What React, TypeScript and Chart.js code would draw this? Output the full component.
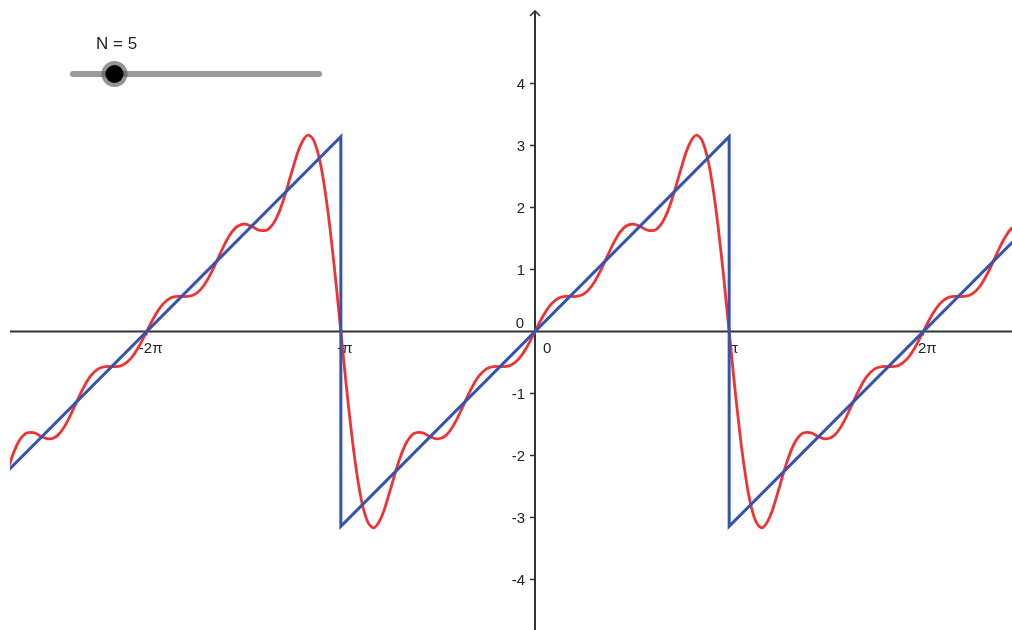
import React, { useEffect, useRef } from "react";
import { Chart, registerables } from "chart.js";

Chart.register(...registerables);

const PI = Math.PI;

// Visible window (axis units)
const X_MIN = -8.495;
const X_MAX = 7.718;
const Y_MIN = -4.815;
const Y_MAX = 5.347;

// Fourier partial sum (N = 5) read at steps of π/24 over one half period [0, π]
const SAMPLE_STEP = PI / 24;
const halfPeriodValues = [
  0, 0.2509, 0.4424, 0.5437, 0.5676, 0.5653, 0.6028, 0.7293, 0.9526, 1.2325,
  1.497, 1.6755, 1.7333, 1.6931, 1.631, 1.6467, 1.8187, 2.1612, 2.6028, 2.9972,
  3.1657, 2.9579, 2.3084, 1.2685, 0,
];
const sampleIndexFrom = -66;
const sampleIndexTo = 60;

// Sawtooth corners
const sawX = [-3 * PI, -PI, -PI, PI, PI, 3 * PI];
const sawY = [-PI, PI, -PI, PI, -PI, PI];

// Axis ticks
const xTickValues = [-2 * PI, -PI, PI, 2 * PI];
const xTickLabels = ["-2π", "-π", "π", "2π"];
const yTickValues = [-4, -3, -2, -1, 1, 2, 3, 4];
const yTickLabels = ["-4", "-3", "-2", "-1", "1", "2", "3", "4"];

// Slider
const sliderLabel = "N = 5";
const sliderMin = 1;
const sliderMax = 25;
const sliderValue = 5;

const FONT = '"Liberation Sans", Arial, sans-serif';
const AXIS_COLOR = "#333333";

function buildFourier() {
  const pts: { x: number; y: number }[] = [];
  for (let k = sampleIndexFrom; k <= sampleIndexTo; k++) {
    const m = ((k % 48) + 48) % 48;
    const v = m <= 24 ? halfPeriodValues[m] : -halfPeriodValues[48 - m];
    pts.push({ x: k * SAMPLE_STEP, y: v });
  }
  return pts;
}

const axesPlugin = {
  id: "geoAxes",
  beforeDatasetsDraw(chart: any) {
    const ctx = chart.ctx;
    const xs = chart.scales.x;
    const ys = chart.scales.y;
    const area = chart.chartArea;
    const ax = xs.getPixelForValue(0);
    const ay = ys.getPixelForValue(0);
    ctx.save();
    ctx.strokeStyle = AXIS_COLOR;
    ctx.lineWidth = 2;
    // x axis
    ctx.beginPath();
    ctx.moveTo(area.left, ay);
    ctx.lineTo(area.right, ay);
    ctx.stroke();
    // y axis with arrow
    const top = area.top + 11;
    ctx.beginPath();
    ctx.moveTo(ax, area.bottom);
    ctx.lineTo(ax, top);
    ctx.stroke();
    ctx.lineWidth = 1.6;
    ctx.beginPath();
    ctx.moveTo(ax - 5, top + 5);
    ctx.lineTo(ax, top);
    ctx.lineTo(ax + 5, top + 5);
    ctx.stroke();

    // ticks
    ctx.lineWidth = 1.5;
    ctx.fillStyle = "#222222";
    ctx.font = `15px ${FONT}`;
    xTickValues.forEach((v, i) => {
      const px = xs.getPixelForValue(v);
      ctx.beginPath();
      ctx.moveTo(px, ay);
      ctx.lineTo(px, ay + 4);
      ctx.stroke();
      ctx.textAlign = "center";
      ctx.textBaseline = "middle";
      ctx.fillText(xTickLabels[i], px + 4, ay + 17);
    });
    yTickValues.forEach((v, i) => {
      const py = ys.getPixelForValue(v);
      ctx.beginPath();
      ctx.moveTo(ax - 5, py);
      ctx.lineTo(ax, py);
      ctx.stroke();
      ctx.textAlign = "right";
      ctx.textBaseline = "middle";
      ctx.fillText(yTickLabels[i], ax - 10, py + 1);
    });
    // origin labels
    ctx.textAlign = "right";
    ctx.fillText("0", ax - 11, ay - 8);
    ctx.textAlign = "left";
    ctx.fillText("0", ax + 8, ay + 17);
    ctx.restore();
  },
  afterDraw(chart: any) {
    const ctx = chart.ctx;
    ctx.save();
    const x0 = 73;
    const x1 = 319;
    const y = 74;
    ctx.strokeStyle = "#9a9a9a";
    ctx.lineWidth = 6;
    ctx.lineCap = "round";
    ctx.beginPath();
    ctx.moveTo(x0, y);
    ctx.lineTo(x1, y);
    ctx.stroke();
    const kx = x0 + ((sliderValue - sliderMin) / (sliderMax - sliderMin)) * (x1 - x0) + 0.5;
    ctx.fillStyle = "rgba(90,90,90,0.65)";
    ctx.beginPath();
    ctx.arc(kx, y, 13, 0, 2 * PI);
    ctx.fill();
    ctx.fillStyle = "#000000";
    ctx.beginPath();
    ctx.arc(kx, y, 9, 0, 2 * PI);
    ctx.fill();
    ctx.fillStyle = "#222222";
    ctx.font = `17px ${FONT}`;
    ctx.textAlign = "left";
    ctx.textBaseline = "middle";
    ctx.fillText(sliderLabel, 96, 44);
    ctx.restore();
  },
};

export default function App() {
  const ref = useRef<HTMLCanvasElement | null>(null);
  useEffect(() => {
    if (!ref.current) return;
    const chart = new Chart(ref.current, {
      type: "scatter",
      data: {
        datasets: [
          {
            label: "f",
            data: sawX.map((x, i) => ({ x, y: sawY[i] })),
            showLine: true,
            borderColor: "#3354b4",
            borderWidth: 3,
            pointRadius: 0,
            tension: 0,
          },
          {
            label: "S5",
            data: buildFourier(),
            showLine: true,
            borderColor: "#f03232",
            borderWidth: 2.8,
            pointRadius: 0,
            tension: 0.4,
          },
        ],
      },
      options: {
        responsive: false,
        animation: false,
        devicePixelRatio: 1,
        layout: { padding: { left: 10, right: 0, top: 0, bottom: 0 } },
        plugins: { legend: { display: false }, tooltip: { enabled: false } },
        scales: {
          x: { type: "linear", min: X_MIN, max: X_MAX, display: false },
          y: { type: "linear", min: Y_MIN, max: Y_MAX, display: false },
        },
      },
      plugins: [axesPlugin],
    });
    return () => chart.destroy();
  }, []);
  return (
    <div style={{ position: "fixed", left: 0, top: 0, width: 1012, height: 630, background: "#fff" }}>
      <canvas ref={ref} width={1012} height={630} style={{ width: 1012, height: 630 }} />
    </div>
  );
}
